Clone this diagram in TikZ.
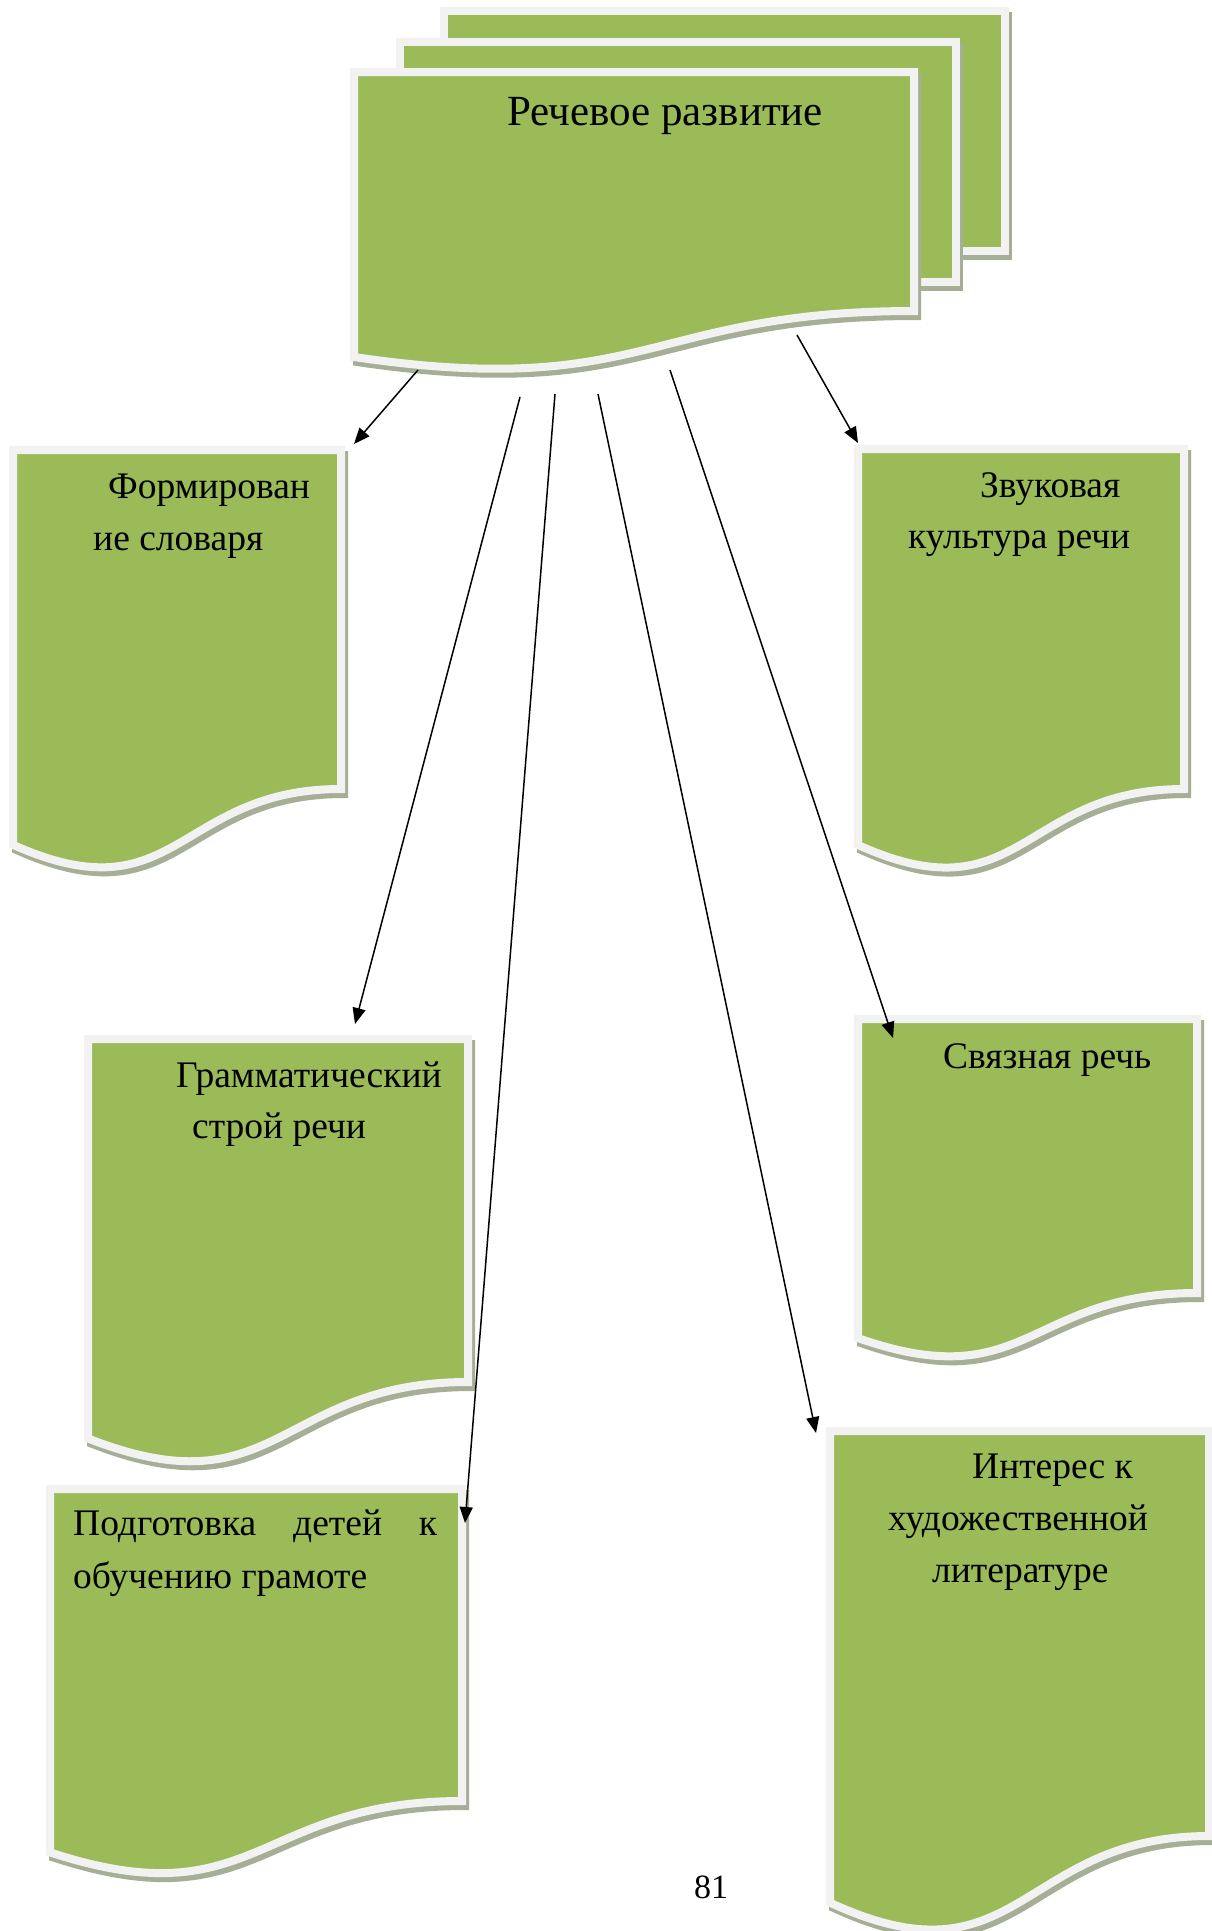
\documentclass[tikz,border=0pt]{standalone}
\usepackage{fontspec}
\setmainfont{Liberation Serif}
\usetikzlibrary{arrows.meta}
\definecolor{docgreen}{RGB}{155,187,89}
\definecolor{docrim}{RGB}{242,242,242}
\definecolor{docshadow}{RGB}{166,175,150}
\tikzset{
  docshade/.style={fill=docshadow, draw=docshadow, line width=8pt, shift={(3,5)}},
  docbody/.style={fill=docgreen, draw=docrim, line width=8pt},
  txt/.style={font=\fontsize{37.5}{41}\selectfont, inner sep=0pt, anchor=base west},
  ttl/.style={font=\fontsize{43}{48}\selectfont, inner sep=0pt, anchor=base west},
  arr/.style={line width=1.5pt, -{Triangle[length=16pt,width=13pt]}},
}
% document shape: green-edge left, top, right, right-bottom
\newcommand\mydocbox[4]{%
  \pgfmathsetmacro\dbL{#1-4}%
  \pgfmathsetmacro\dbT{#2-4}%
  \pgfmathsetmacro\dbR{#3+4}%
  \pgfmathsetmacro\dbRB{#4+4}%
  \pgfmathsetmacro\dbH{(\dbRB-\dbT)/0.802}%
  \pgfmathsetmacro\dbLB{\dbT+0.934*\dbH}%
  \pgfmathsetmacro\dbC{\dbT+1.1075*\dbH}%
  \pgfmathsetmacro\dbM{(\dbL+\dbR)/2}%
  \path[docshade] (\dbL,\dbT) -- (\dbR,\dbT) -- (\dbR,\dbRB) .. controls (\dbM,\dbRB) and (\dbM,\dbC) .. (\dbL,\dbLB) -- cycle;
  \path[docbody] (\dbL,\dbT) -- (\dbR,\dbT) -- (\dbR,\dbRB) .. controls (\dbM,\dbRB) and (\dbM,\dbC) .. (\dbL,\dbLB) -- cycle;
}
\begin{document}
\begin{tikzpicture}[x=1pt,y=-1pt]
\useasboundingbox (0,0) rectangle (1211,1931);
\fill[white] (0,0) rectangle (1211,1931);

% multi-document at top
\path[docshade] (444,11) rectangle (1005,251);
\path[docbody] (444,11) rectangle (1005,251);
\path[docshade] (400,42) rectangle (956,282);
\path[docbody] (400,42) rectangle (956,282);
\path[docshade] (354,72) -- (914,72) -- (914,311) .. controls (647,311) and (647,400) .. (354,357) -- cycle;
\path[docbody] (354,72) -- (914,72) -- (914,311) .. controls (647,311) and (647,400) .. (354,357) -- cycle;
\node[ttl] (title) at (507,125) {Речевое развитие};

% document boxes
\mydocbox{17}{454}{337}{785}
\mydocbox{862}{453}{1180}{785}
\mydocbox{92}{1043}{464}{1378}
\mydocbox{54}{1493}{458}{1797}
\mydocbox{862}{1023}{1193}{1289}
\mydocbox{834}{1435}{1205}{1832}

% texts
\node[txt] (f1) at (108,498) {Формирован};
\node[txt] (f2) at (93,550) {ие словаря};
\node[txt] (z1) at (980,497) {Звуковая};
\node[txt] (z2) at (908,548) {культура речи};
\node[txt] (g1) at (176,1087) {Грамматический};
\node[txt] (g2) at (192,1138) {строй речи};
\node[txt] (p1) at (73,1535) {\hbox to 364pt{Подготовка\hfill детей\hfill к}};
\node[txt] (p2) at (73,1588) {обучению грамоте};
\node[txt] (s1) at (943,1068) {Связная речь};
\node[txt] (i1) at (972,1478) {Интерес к};
\node[txt] (i2) at (888,1530) {художественной};
\node[txt] (i3) at (932,1582) {литературе};
\node[font=\fontsize{34}{40}\selectfont, inner sep=0pt, anchor=base] (pg) at (711,1898) {81};

% connectors
\coordinate (a1s) at (418,370);  \coordinate (a1e) at (354,444);
\coordinate (a2s) at (520,397);  \coordinate (a2e) at (355,1024);
\coordinate (a3s) at (555,394);  \coordinate (a3e) at (465,1523);
\coordinate (a4s) at (598,394);  \coordinate (a4e) at (816,1433);
\coordinate (a5s) at (670,370);  \coordinate (a5e) at (893,1038);
\coordinate (a6s) at (797,335);  \coordinate (a6e) at (858,443);
\draw[arr] (a1s) -- (a1e);
\draw[arr] (a2s) -- (a2e);
\draw[arr] (a3s) -- (a3e);
\draw[arr] (a4s) -- (a4e);
\draw[arr] (a5s) -- (a5e);
\draw[arr] (a6s) -- (a6e);
\end{tikzpicture}
\end{document}
